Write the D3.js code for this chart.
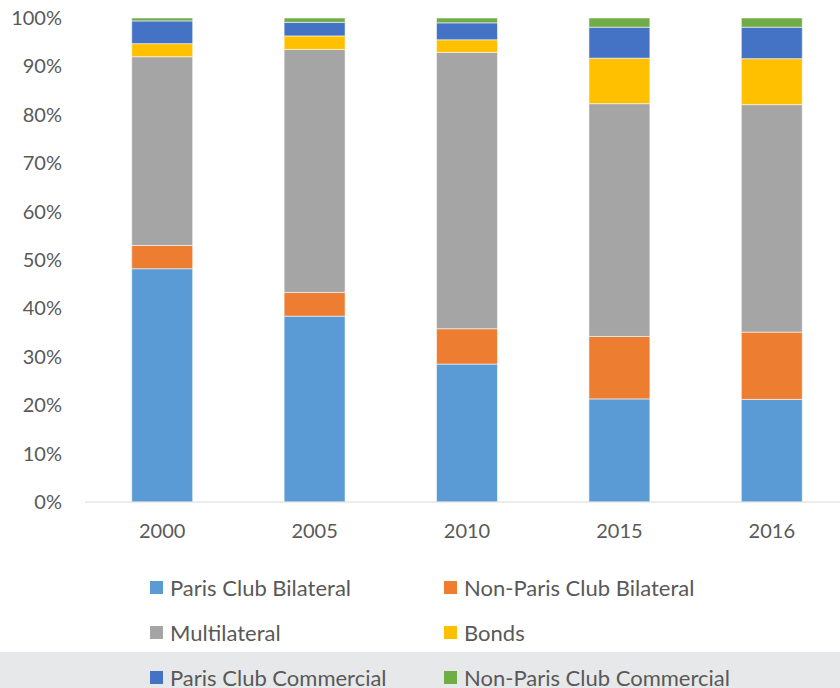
<!DOCTYPE html>
<html>
<head>
<meta charset="utf-8">
<script src="https://cdn.jsdelivr.net/npm/d3@7/dist/d3.min.js"></script>
<style>
  html, body { margin: 0; padding: 0; background: #fff; }
  svg { display: block; }
  text { font-family: Lato, "Open Sans", sans-serif; fill: #595959; }
</style>
</head>
<body>
<svg id="chart" width="840" height="688"></svg>
<script>
// Composition of external debt by creditor (share of total, %)
const years = ["2000", "2005", "2010", "2015", "2016"];
const seriesNames = [
  "Paris Club Bilateral", "Non-Paris Club Bilateral", "Multilateral",
  "Bonds", "Paris Club Commercial", "Non-Paris Club Commercial"
];
const parisClubBilateral     = [48.2, 38.4, 28.5, 21.3, 21.2];
const nonParisClubBilateral  = [4.8, 4.9, 7.3, 12.9, 13.9];
const multilateral           = [39.0, 50.2, 57.1, 48.1, 47.0];
const bonds                  = [2.7, 2.8, 2.6, 9.4, 9.5];
const parisClubCommercial    = [4.7, 2.8, 3.5, 6.4, 6.5];
const nonParisClubCommercial = [0.6, 0.9, 1.0, 1.9, 1.9];
const yTicks = [0, 10, 20, 30, 40, 50, 60, 70, 80, 90, 100];
const colors = ["#5b9bd5", "#ed7d31", "#a5a5a5", "#ffc000", "#4472c4", "#70ad47"];

const seriesValues = [parisClubBilateral, nonParisClubBilateral, multilateral,
                      bonds, parisClubCommercial, nonParisClubCommercial];

const rows = years.map((y, i) => {
  const r = { year: y };
  seriesNames.forEach((n, k) => { r[n] = seriesValues[k][i]; });
  return r;
});

const svg = d3.select("#chart");
const margin = { left: 86, right: -8, top: 18, bottom: 186 };
const W = 840, H = 688;

const x = d3.scaleBand().domain(years)
  .range([margin.left, W - margin.right])
  .paddingInner(0.6).paddingOuter(0.3);
const y = d3.scaleLinear().domain([0, 100]).range([H - margin.bottom, margin.top]);

// legend band behind the last row
svg.append("rect").attr("x", 0).attr("y", 652).attr("width", W).attr("height", 36)
  .attr("fill", "#e7e8ea");

const stack = d3.stack().keys(seriesNames).offset(d3.stackOffsetExpand);
const stacked = stack(rows);

const g = svg.append("g");
g.selectAll("g.series").data(stacked).join("g")
  .attr("class", "series")
  .attr("fill", (d, i) => colors[i])
  .selectAll("rect").data(d => d).join("rect")
  .attr("x", d => x(d.data.year))
  .attr("width", x.bandwidth())
  .attr("y", d => y(d[1] * 100))
  .attr("height", d => y(d[0] * 100) - y(d[1] * 100))
  .attr("stroke", "#ffffff")
  .attr("stroke-opacity", 0.55)
  .attr("stroke-width", 1);

// baseline
svg.append("line")
  .attr("x1", margin.left - 1).attr("x2", W)
  .attr("y1", y(0)).attr("y2", y(0))
  .attr("stroke", "#d9d9d9").attr("stroke-width", 1.2);

// y axis labels
const yAxis = d3.axisLeft(y).tickValues(yTicks).tickFormat(d => d + "%").tickSize(0).tickPadding(0);
const ya = svg.append("g").attr("transform", "translate(62,0)").call(yAxis);
ya.select(".domain").remove();
ya.selectAll("text").style("font-size", "20px").attr("fill", "#595959")
  .attr("font-family", "Lato, 'Open Sans', sans-serif");

// x axis labels
const xAxis = d3.axisBottom(x).tickSize(0).tickPadding(0);
const xa = svg.append("g").attr("transform", `translate(0,${y(0) + 22})`).call(xAxis);
xa.select(".domain").remove();
xa.selectAll("text").style("font-size", "20px").attr("fill", "#595959")
  .attr("font-family", "Lato, 'Open Sans', sans-serif");

// legend, two columns by three rows
const legend = svg.append("g");
const colX = [150, 444];
const rowY = [588, 633, 678];
seriesNames.forEach((n, i) => {
  const cx = colX[i % 2], cy = rowY[Math.floor(i / 2)];
  legend.append("rect").attr("x", cx).attr("y", cy - 7).attr("width", 13).attr("height", 13)
    .attr("fill", colors[i]);
  legend.append("text").attr("x", cx + 20).attr("y", cy).attr("dy", "0.35em")
    .style("font-size", "22px").text(n);
});
</script>
</body>
</html>
